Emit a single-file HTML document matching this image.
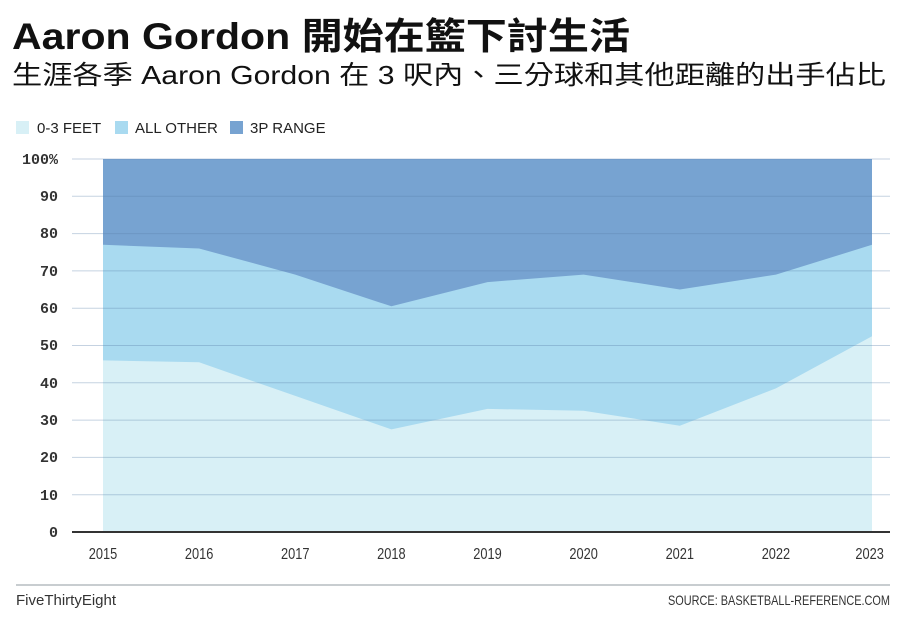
<!DOCTYPE html>
<html><head><meta charset="utf-8"><style>
body{margin:0;background:#fff;width:900px;height:618px;overflow:hidden;font-family:"Liberation Sans","Noto Sans CJK TC",sans-serif}
</style></head><body>
<svg width="900" height="618" xmlns="http://www.w3.org/2000/svg" font-family="Liberation Sans, Noto Sans CJK TC, sans-serif">
<text x="12" y="49" font-size="37" font-weight="bold" fill="#111" textLength="618" lengthAdjust="spacingAndGlyphs">Aaron Gordon 開始在籃下討生活</text>
<text x="12" y="84" font-size="26" fill="#111" textLength="874" lengthAdjust="spacingAndGlyphs">生涯各季 Aaron Gordon 在 3 呎內、三分球和其他距離的出手佔比</text>
<rect x="16" y="121" width="13" height="13" fill="#d8f0f6"/>
<text x="37" y="133" font-size="15" fill="#222">0-3 FEET</text>
<rect x="115" y="121" width="13" height="13" fill="#a9daf0"/>
<text x="135" y="133" font-size="15" fill="#222">ALL OTHER</text>
<rect x="230" y="121" width="13" height="13" fill="#77a3d1"/>
<text x="250" y="133" font-size="15" fill="#222">3P RANGE</text>
<polygon fill="#77a3d1" points="103,159 872,159 872,532 103,532"/>
<polygon fill="#a9daf0" points="103,244.8 199.1,248.5 295.3,274.6 391.4,306.3 487.5,282.1 583.6,274.6 679.8,289.5 775.9,274.6 872,244.8 872,532 103,532"/>
<polygon fill="#d8f0f6" points="103,360.4 199.1,362.3 295.3,395.9 391.4,429.4 487.5,408.9 583.6,410.8 679.8,425.7 775.9,388.4 872,336.2 872,532 103,532"/>
<g stroke="#5a7fa8" stroke-opacity="0.35" stroke-width="1">
<line x1="72" x2="890" y1="159" y2="159"/><line x1="72" x2="890" y1="196.3" y2="196.3"/><line x1="72" x2="890" y1="233.6" y2="233.6"/><line x1="72" x2="890" y1="270.9" y2="270.9"/><line x1="72" x2="890" y1="308.2" y2="308.2"/><line x1="72" x2="890" y1="345.5" y2="345.5"/><line x1="72" x2="890" y1="382.8" y2="382.8"/><line x1="72" x2="890" y1="420.1" y2="420.1"/><line x1="72" x2="890" y1="457.4" y2="457.4"/><line x1="72" x2="890" y1="494.7" y2="494.7"/>
</g>
<line x1="72" x2="890" y1="532" y2="532" stroke="#333" stroke-width="2"/>
<g font-family="Liberation Mono, monospace" font-size="15" font-weight="bold" fill="#333" text-anchor="end">
<text x="58" y="164">100%</text><text x="58" y="201">90</text><text x="58" y="238">80</text><text x="58" y="276">70</text><text x="58" y="313">60</text><text x="58" y="350">50</text><text x="58" y="388">40</text><text x="58" y="425">30</text><text x="58" y="462">20</text><text x="58" y="500">10</text><text x="58" y="537">0</text>
</g>
<g font-size="16" fill="#333" text-anchor="middle" transform="scale(0.8,1)">
<text x="128.75" y="559">2015</text><text x="248.9" y="559">2016</text><text x="369.1" y="559">2017</text><text x="489.25" y="559">2018</text><text x="609.4" y="559">2019</text><text x="729.5" y="559">2020</text><text x="849.75" y="559">2021</text><text x="969.9" y="559">2022</text><text x="1087" y="559">2023</text>
</g>
<line x1="16" x2="890" y1="585" y2="585" stroke="#c8cdd0" stroke-width="2"/>
<text x="16" y="605" font-size="15" fill="#333">FiveThirtyEight</text>
<text x="890" y="605" font-size="14" fill="#333" text-anchor="end" textLength="222" lengthAdjust="spacingAndGlyphs">SOURCE: BASKETBALL-REFERENCE.COM</text>
</svg>
</body></html>
